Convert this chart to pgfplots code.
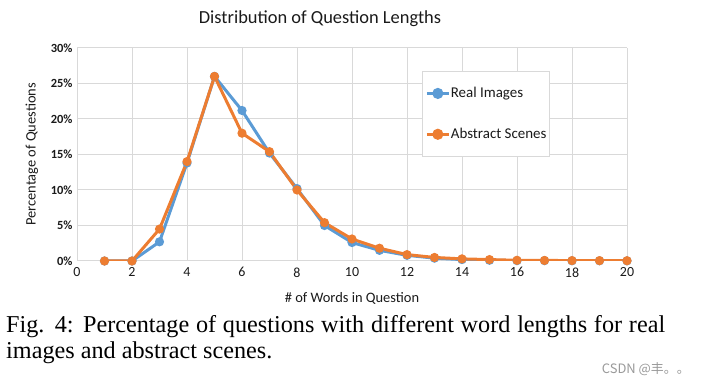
\documentclass[border=0pt]{standalone}
\usepackage{fontspec}
\setmainfont{Carlito}
\newfontfamily\capfont{Liberation Serif}
\newfontfamily\cjk{Noto Sans CJK SC}
\usepackage{pgfplots}
\pgfplotsset{compat=1.18}
\definecolor{xlblue}{HTML}{5B9BD5}
\definecolor{xlorange}{HTML}{ED7D31}
\definecolor{gridc}{HTML}{D9D9D9}
\definecolor{txt}{HTML}{1A1A1A}
\begin{document}
\begin{tikzpicture}
\useasboundingbox (0,0) rectangle (701bp,384bp);
\begin{axis}[
  at={(77bp,123bp)}, anchor=south west,
  scale only axis, width=550bp, height=213bp,
  xmin=0, xmax=20, ymin=0, ymax=30,
  xtick={0,2,...,20}, ytick={0,5,...,30},
  yticklabel={\pgfmathprintnumber{\tick}\%},
  /pgf/number format/assume math mode=true,
  grid=major, major grid style={gridc, line width=1bp},
  axis x line*=bottom, axis y line*=left,
  x axis line style={draw=gridc, line width=1bp},
  y axis line style={draw=none},
  major tick length=0pt,
  xticklabel style={font=\fontsize{14}{16}\selectfont, text=txt, yshift=-3bp},
  yticklabel style={font=\fontsize{12.5}{14}\selectfont\bfseries, text=txt, xshift=-1bp},
  xlabel={\# of Words in Question},
  ylabel={Percentage of Questions},
  label style={font=\fontsize{14.5}{16}\selectfont, text=txt},
  xlabel style={at={(axis description cs:0.5,-0.174)}, anchor=center},
  ylabel style={at={(axis description cs:-0.082,0.5)}, anchor=center},
  legend style={at={(axis description cs:0.627,0.892)}, anchor=north west,
    draw=gridc, line width=1bp, inner xsep=3bp, inner ysep=14bp,
    row sep=25bp, font=\fontsize{15}{17}\selectfont, text=txt,
    nodes={inner xsep=0.5bp}},
  legend cell align=left,
  legend image code/.code={\draw[#1, mark=none, line width=3bp] (0bp,0bp) -- (22bp,0bp);
    \fill[#1] (11bp,0bp) circle[radius=4bp];},
  every axis plot/.append style={line width=3bp, mark=*, mark size=3bp},
]
\addplot[color=xlblue, mark options={fill=xlblue}] coordinates {
(1,0) (2,0) (3,2.7) (4,13.8) (5,26.0) (6,21.2) (7,15.2) (8,10.2) (9,5.0) (10,2.6)
(11,1.5) (12,0.8) (13,0.4) (14,0.2) (15,0.1) (16,0.05) (17,0.05) (18,0.03) (19,0.03) (20,0.02)};
\addlegendentry{Real Images}
\addplot[color=xlorange, mark options={fill=xlorange}] coordinates {
(1,0) (2,0) (3,4.5) (4,14.0) (5,26.0) (6,18.0) (7,15.4) (8,10.0) (9,5.4) (10,3.1)
(11,1.8) (12,0.9) (13,0.5) (14,0.3) (15,0.2) (16,0.1) (17,0.08) (18,0.06) (19,0.05) (20,0.04)};
\addlegendentry{Abstract Scenes}
\end{axis}
\node[font=\fontsize{18.5}{21}\selectfont, text=txt, anchor=center] at (320bp,365bp) {Distribution of Question Lengths};
\node[font=\capfont\fontsize{24.3}{27}\selectfont, anchor=base west, inner sep=0pt] at (6bp,51bp)
  {\makebox[659bp][s]{Fig. 4: Percentage of questions with different word lengths for real}};
\node[font=\capfont\fontsize{24.3}{27}\selectfont, anchor=base west, inner sep=0pt] at (6bp,26bp)
  {images and abstract scenes.};
\node[font=\cjk\fontsize{13}{15}\selectfont, text=black!40, anchor=base east, inner sep=0pt] at (690bp,11bp)
  {CSDN @丰。。};
\end{tikzpicture}
\end{document}
